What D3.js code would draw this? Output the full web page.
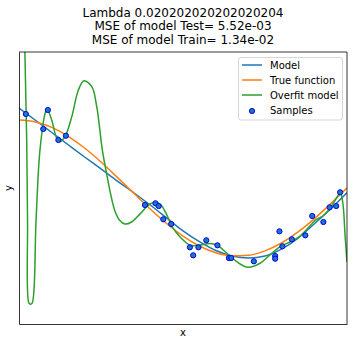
<!DOCTYPE html>
<html><head><meta charset="utf-8">
<script src="https://cdn.jsdelivr.net/npm/d3@7"></script>
<style>body{margin:0;background:#fff}svg{display:block}text{font-family:"DejaVu Sans",sans-serif;fill:#000}</style>
</head><body><svg id="c" width="356" height="344"></svg>
<script>
const titleLines = ["Lambda 0.020202020202020204", "MSE of model Test= 5.52e-03", "MSE of model Train= 1.34e-02"];
const seriesNames = ["Model", "True function", "Overfit model", "Samples"];
const xLabel = "x", yLabel = "y";

const gridX = [0,0.05,0.1,0.15,0.2,0.25,0.3,0.35,0.4,0.45,0.5,0.55,0.6,0.65,0.7,0.75,0.8,0.85,0.9,0.95,1.0];
const modelY = [1.176,0.996,0.816,0.636,0.456,0.28,0.10,-0.07,-0.25,-0.44,-0.63,-0.79,-0.92,-1.0,-1.03,-1.0,-0.90,-0.74,-0.53,-0.31,-0.07];
const trueY = [1.0,0.972,0.891,0.760,0.588,0.383,0.156,-0.078,-0.309,-0.522,-0.707,-0.853,-0.951,-0.997,-0.988,-0.924,-0.809,-0.649,-0.454,-0.233,0.0];

const overfitX = [0,0.012,0.018,0.0235,0.026,0.030,0.035,0.0405,0.052,0.064,0.081,0.086,0.0997,0.115,0.125,0.140,0.161,0.181,0.198,0.222,0.237,0.254,0.266,0.279,0.292,0.306,0.323,0.343,0.369,0.399,0.418,0.433,0.448,0.470,0.491,0.521,0.552,0.582,0.604,0.633,0.665,0.699,0.735,0.765,0.796,0.826,0.857,0.881,0.905,0.93,0.951,0.970,0.980,0.988,0.994,1.0];
const overfitY = [8,3.5,2.0,0.706,-0.47,-1.69,-1.71,-1.69,-0.47,0.56,1.12,1.157,1.0,0.73,0.68,0.754,1.05,1.44,1.578,1.49,1.196,0.56,0.24,-0.08,-0.33,-0.47,-0.53,-0.50,-0.38,-0.235,-0.213,-0.25,-0.37,-0.59,-0.72,-0.84,-0.84,-0.816,-0.84,-0.956,-1.088,-1.166,-1.107,-0.985,-0.863,-0.794,-0.706,-0.588,-0.47,-0.397,-0.279,-0.132,-0.066,-0.25,-0.69,-1.088];

const sampleX = [0.021,0.074,0.088,0.120,0.143,0.384,0.416,0.426,0.440,0.464,0.521,0.531,0.547,0.571,0.605,0.640,0.647,0.716,0.781,0.781,0.794,0.803,0.832,0.873,0.894,0.928,0.947,0.967,0.979];
const sampleY = [1.088,0.868,1.147,0.706,0.769,-0.250,-0.225,-0.265,-0.460,-0.529,-0.872,-0.990,-0.872,-0.769,-0.843,-1.029,-1.029,-1.078,-1.0,-1.04,-0.637,-0.857,-0.754,-0.696,-0.412,-0.5,-0.284,-0.265,-0.063];

const colors = ["#1f77b4", "#ff7f0e", "#2ca02c"];

const svg = d3.select("#c");
const L = 19, R = 347, T = 52, B = 324;
const x = d3.scaleLinear().domain([0,1]).range([L,R]);
const y = d3.scaleLinear().domain([-2,2]).range([B,T]);

svg.append("defs").append("clipPath").attr("id","clip")
  .append("rect").attr("x",L).attr("y",T).attr("width",R-L).attr("height",B-T);

const plot = svg.append("g").attr("clip-path","url(#clip)");
const line = d3.line().x(d=>x(d[0])).y(d=>y(d[1])).curve(d3.curveMonotoneX);
const line2 = d3.line().x(d=>x(d[0])).y(d=>y(d[1])).curve(d3.curveCatmullRom.alpha(0.5));

plot.append("path").datum(gridX.map((v,i)=>[v,modelY[i]])).attr("d",line)
  .attr("fill","none").attr("stroke",colors[0]).attr("stroke-width",1.5);
plot.append("path").datum(gridX.map((v,i)=>[v,trueY[i]])).attr("d",line)
  .attr("fill","none").attr("stroke",colors[1]).attr("stroke-width",1.5);
plot.append("path").datum(overfitX.map((v,i)=>[v,overfitY[i]])).attr("d",line2)
  .attr("fill","none").attr("stroke",colors[2]).attr("stroke-width",1.5);

plot.selectAll("circle").data(sampleX.map((v,i)=>[v,sampleY[i]])).join("circle")
  .attr("cx",d=>x(d[0])).attr("cy",d=>y(d[1])).attr("r",2.6)
  .attr("fill","#1f77b4").attr("stroke","#0000ff").attr("stroke-width",1);

// axes (no ticks)
const xAxis = d3.axisBottom(x).tickValues([]).tickSizeOuter(0);
const yAxis = d3.axisLeft(y).tickValues([]).tickSizeOuter(0);
svg.append("g").attr("transform",`translate(0,${B})`).call(xAxis).select(".domain").attr("stroke","#000").attr("stroke-width",0.8);
svg.append("g").attr("transform",`translate(${L},0)`).call(yAxis).select(".domain").attr("stroke","#000").attr("stroke-width",0.8);
svg.append("line").attr("x1",L).attr("x2",R).attr("y1",T).attr("y2",T).attr("stroke","#000").attr("stroke-width",0.8);
svg.append("line").attr("x1",R).attr("x2",R).attr("y1",T).attr("y2",B).attr("stroke","#000").attr("stroke-width",0.8);

svg.append("text").attr("x",(L+R)/2).attr("y",336).attr("text-anchor","middle").attr("font-size",10).text(xLabel);
svg.append("text").attr("transform",`translate(12,${(T+B)/2}) rotate(-90)`).attr("text-anchor","middle").attr("font-size",10).text(yLabel);

const tt = svg.append("text").attr("text-anchor","middle").attr("font-size",12);
titleLines.forEach((s,i)=>tt.append("tspan").attr("x",(L+R)/2).attr("y",16.5+i*13.5).text(s));

// legend
const lg = svg.append("g");
lg.append("rect").attr("x",238.5).attr("y",57.5).attr("width",104).attr("height",62.5).attr("rx",2.5)
  .attr("fill","#fff").attr("fill-opacity",0.8).attr("stroke","#cccccc").attr("stroke-width",0.8);
const rowY = [65, 80, 95, 110.5];
seriesNames.forEach((n,i)=>{
  if(i<3){
    lg.append("line").attr("x1",242).attr("x2",262).attr("y1",rowY[i]).attr("y2",rowY[i])
      .attr("stroke",colors[i]).attr("stroke-width",1.5);
  } else {
    lg.append("circle").attr("cx",252).attr("cy",rowY[i]+0.5).attr("r",2.6)
      .attr("fill","#1f77b4").attr("stroke","#0000ff").attr("stroke-width",1);
  }
  lg.append("text").attr("x",270).attr("y",rowY[i]+3.6).attr("font-size",10).text(n);
});
</script></body></html>
